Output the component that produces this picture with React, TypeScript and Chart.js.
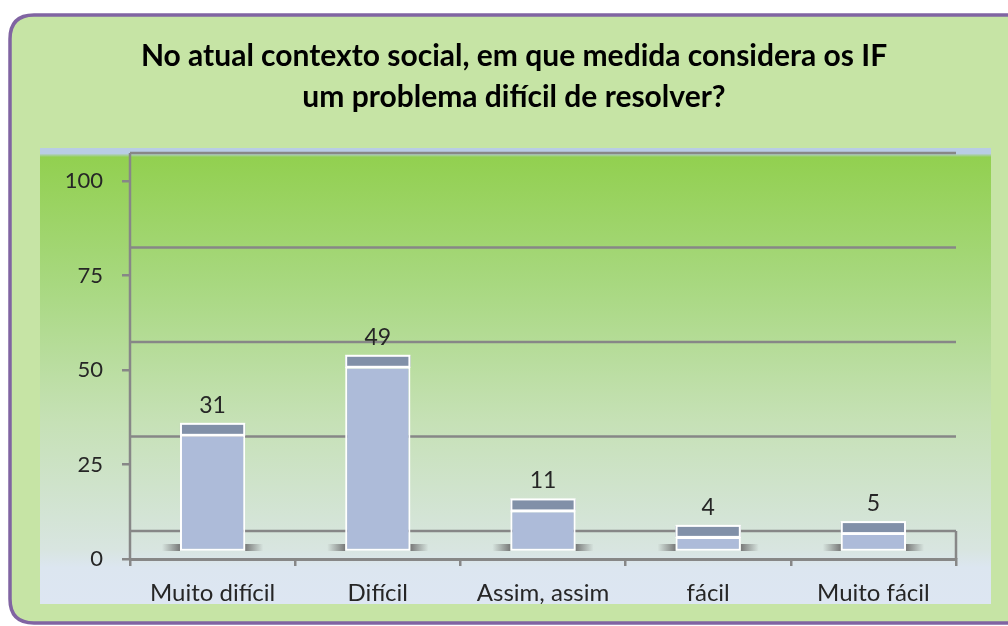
import { useEffect, useRef } from "react";
import { Chart, registerables } from "chart.js";

Chart.register(...registerables);

const categories = ["Muito difícil", "Difícil", "Assim, assim", "fácil", "Muito fácil"];
const values = [31, 49, 11, 4, 5];
const yTicks = [0, 25, 50, 75, 100];
const titleLines = [
  "No atual contexto social, em que medida considera os IF",
  "um problema difícil de resolver?",
];

const FONT = "Lato, 'Open Sans', sans-serif";
const DEPTH = 28;
const LIFT = 7;
const LINE = "#878787";

const decorPlugin = {
  id: "decor",
  beforeDraw(chart: any) {
    const { ctx, width, height } = chart;
    ctx.save();
    ctx.fillStyle = "#ffffff";
    ctx.fillRect(0, 0, width, height);
    // outer rounded box
    const x0 = 10, y0 = 15, x1 = 1030, y1 = 623, r = 24;
    ctx.beginPath();
    ctx.moveTo(x0 + r, y0);
    ctx.lineTo(x1 - r, y0);
    ctx.quadraticCurveTo(x1, y0, x1, y0 + r);
    ctx.lineTo(x1, y1 - r);
    ctx.quadraticCurveTo(x1, y1, x1 - r, y1);
    ctx.lineTo(x0 + r, y1);
    ctx.quadraticCurveTo(x0, y1, x0, y1 - r);
    ctx.lineTo(x0, y0 + r);
    ctx.quadraticCurveTo(x0, y0, x0 + r, y0);
    ctx.closePath();
    ctx.fillStyle = "#C6E4A5";
    ctx.fill();
    ctx.lineWidth = 3.5;
    ctx.strokeStyle = "#8064A2";
    ctx.stroke();
    // inner panel
    const px0 = 40, py0 = 148, px1 = 991, py1 = 604;
    const g = ctx.createLinearGradient(0, py0, 0, py1);
    g.addColorStop(0, "#B9CDE5");
    g.addColorStop(0.012, "#B9CDE5");
    g.addColorStop(0.02, "#92D050");
    g.addColorStop(0.3, "#A8D880");
    g.addColorStop(0.6, "#C6E1B6");
    g.addColorStop(0.88, "#D8E5E0");
    g.addColorStop(0.92, "#DCE6F0");
    g.addColorStop(1, "#DDE6F2");
    ctx.fillStyle = g;
    ctx.fillRect(px0, py0, px1 - px0, py1 - py0);
    ctx.restore();
  },
  beforeDatasetsDraw(chart: any) {
    const { ctx, chartArea, scales } = chart;
    const y = scales.y;
    const left = chartArea.left, right = chartArea.right;
    ctx.save();
    ctx.strokeStyle = LINE;
    ctx.lineWidth = 2.5;
    // back wall gridlines
    yTicks.forEach((v) => {
      const py = y.getPixelForValue(v) - DEPTH;
      ctx.beginPath();
      ctx.moveTo(left, py);
      ctx.lineTo(right, py);
      ctx.stroke();
    });
    // y axis line (left wall)
    ctx.beginPath();
    ctx.moveTo(left, y.getPixelForValue(100) - DEPTH);
    ctx.lineTo(left, y.getPixelForValue(0));
    ctx.stroke();
    // right wall edge
    ctx.beginPath();
    ctx.moveTo(right, y.getPixelForValue(0) - DEPTH);
    ctx.lineTo(right, y.getPixelForValue(0));
    ctx.stroke();
    // base shadows
    const meta = chart.getDatasetMeta(0);
    const sy = y.getPixelForValue(0) - LIFT - 8;
    meta.data.forEach((bar: any) => {
      const { x, width } = bar.getProps(["x", "width"], true);
      const half = width / 2;
      const gl = ctx.createLinearGradient(x - half - 18, 0, x - half, 0);
      gl.addColorStop(0, "rgba(110,110,110,0)");
      gl.addColorStop(1, "rgba(110,110,110,0.9)");
      ctx.fillStyle = gl;
      ctx.fillRect(x - half - 18, sy, 18, 7);
      const gr = ctx.createLinearGradient(x + half, 0, x + half + 18, 0);
      gr.addColorStop(0, "rgba(110,110,110,0.9)");
      gr.addColorStop(1, "rgba(110,110,110,0)");
      ctx.fillStyle = gr;
      ctx.fillRect(x + half, sy, 18, 7);
    });
    ctx.restore();
    ctx.save();
    ctx.translate(0, -LIFT);
  },
  afterDatasetsDraw(chart: any) {
    const { ctx } = chart;
    const meta = chart.getDatasetMeta(0);
    const ds = chart.data.datasets[0];
    meta.data.forEach((bar: any, i: number) => {
      const { x, y, width } = bar.getProps(["x", "y", "width"], true);
      const capH = 11;
      const left = x - width / 2;
      ctx.fillStyle = "#8190A8";
      ctx.fillRect(left, y - capH, width, capH);
      ctx.strokeStyle = "#ffffff";
      ctx.lineWidth = 2;
      ctx.strokeRect(left + 1, y - capH, width - 2, capH);
      ctx.fillStyle = "#262626";
      ctx.font = `23px ${FONT}`;
      ctx.textAlign = "center";
      ctx.textBaseline = "alphabetic";
      ctx.fillText(String(ds.data[i]), x, y - capH - 11);
    });
    ctx.restore();
  },
};

export default function App() {
  const ref = useRef<HTMLCanvasElement | null>(null);
  useEffect(() => {
    if (!ref.current) return;
    const chart = new Chart(ref.current, {
      type: "bar",
      data: {
        labels: categories,
        datasets: [
          {
            data: values,
            backgroundColor: "#ADBBD9",
            borderColor: "#ffffff",
            borderWidth: 2,
            borderSkipped: false,
            categoryPercentage: 1,
            barPercentage: 0.395,
          },
        ],
      },
      options: {
        animation: false,
        responsive: false,
        maintainAspectRatio: false,
        layout: { padding: { left: 40, right: 20, top: 0, bottom: 22 } },
        plugins: {
          legend: { display: false },
          tooltip: { enabled: false },
          title: {
            display: true,
            text: titleLines,
            color: "#000000",
            font: { family: FONT, size: 30, weight: "bold", lineHeight: 1.367 },
            padding: { top: 36, bottom: 63 },
          },
        },
        scales: {
          x: {
            grid: {
              offset: true,
              drawOnChartArea: false,
              drawTicks: true,
              tickLength: 7,
              color: LINE,
              lineWidth: 2.5,
            },
            border: { display: true, color: LINE, width: 3 },
            ticks: {
              color: "#262626",
              padding: 13,
              font: { family: FONT, size: 24 },
              maxRotation: 0,
            },
            afterFit(scale: any) {
              scale.height = 45;
            },
          },
          y: {
            min: 0,
            max: 100,
            afterBuildTicks(scale: any) {
              scale.ticks = yTicks.map((v) => ({ value: v }));
            },
            grid: {
              drawOnChartArea: false,
              drawTicks: true,
              tickLength: 8,
              color: LINE,
              lineWidth: 2.5,
            },
            border: { display: false },
            ticks: {
              color: "#262626",
              padding: 19,
              font: { family: FONT, size: 22 },
            },
            afterFit(scale: any) {
              scale.width = 90;
            },
          },
          y2: {
            position: "right",
            display: true,
            min: 0,
            max: 100,
            grid: { display: false, drawTicks: false },
            border: { display: false },
            ticks: { display: false },
            afterFit(scale: any) {
              scale.width = 32;
            },
          },
        },
      },
      plugins: [decorPlugin],
    });
    return () => chart.destroy();
  }, []);
  return (
    <div style={{ position: "fixed", left: 0, top: 0, width: 1008, height: 626 }}>
      <canvas ref={ref} width={1008} height={626} style={{ display: "block" }} />
    </div>
  );
}
